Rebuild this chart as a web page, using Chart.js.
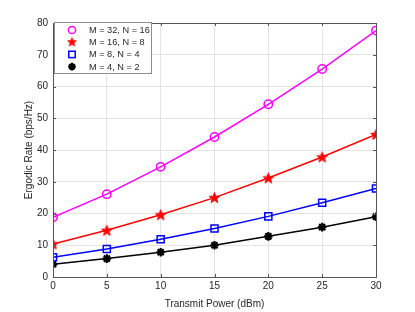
<!DOCTYPE html>
<html><head><meta charset="utf-8">
<script src="https://cdn.jsdelivr.net/npm/chart.js@4"></script>
<style>html,body{margin:0;padding:0;background:#fff}canvas{display:block}</style></head>
<body>
<canvas id="c" width="415" height="312" style="width:415px;height:312px"></canvas>
<script>
const powers = [0, 5, 10, 15, 20, 25, 30];
const seriesLabels = ['M = 32, N = 16', 'M = 16, N = 8', 'M = 8, N = 4', 'M = 4, N = 2'];
const rateM32 = [18.8, 26.1, 34.7, 44.1, 54.4, 65.5, 77.6];
const rateM16 = [10.4, 14.7, 19.6, 25.0, 31.2, 37.8, 44.9];
const rateM8 = [6.2, 8.8, 11.9, 15.3, 19.1, 23.4, 27.9];
const rateM4 = [4.0, 5.8, 7.8, 10.0, 12.8, 15.7, 19.0];
const xTickValues = [0, 5, 10, 15, 20, 25, 30];
const yTickValues = [0, 10, 20, 30, 40, 50, 60, 70, 80];

const FONT = '"Liberation Sans", Arial, Helvetica, sans-serif';
const AXIS = '#555555';
const TXT = '#262626';

function starPath(ctx, x, y, R, r) {
  ctx.beginPath();
  for (let i = 0; i < 10; i++) {
    const rad = i % 2 === 0 ? R : r;
    const a = -Math.PI / 2 + i * Math.PI / 5;
    const px = x + rad * Math.cos(a), py = y + rad * Math.sin(a);
    if (i === 0) ctx.moveTo(px, py); else ctx.lineTo(px, py);
  }
  ctx.closePath();
}
function makeStar(size, R, r) {
  const c = document.createElement('canvas');
  c.width = size; c.height = size;
  const g = c.getContext('2d');
  g.fillStyle = '#ff0000'; g.strokeStyle = '#ff0000'; g.lineWidth = 1;
  starPath(g, size / 2, size / 2 + 0.5, R, r);
  g.fill(); g.stroke();
  return c;
}
const redStar = makeStar(13, 5.6, 2.3);
const redStarSmall = makeStar(11, 4.6, 1.9);

function pts(arr) { return powers.map((p, i) => ({x: p, y: arr[i]})); }

const styles = [
  {color: '#ff00ff', pointStyle: 'circle', radius: 4.2, bw: 1.5},
  {color: '#ff0000', pointStyle: redStar, radius: 6, bw: 1.5},
  {color: '#0000ff', pointStyle: 'rect', radius: 5, bw: 1.5},
  {color: '#000000', pointStyle: 'star', radius: 4.3, bw: 2.2}
];
const allData = [rateM32, rateM16, rateM8, rateM4];

const datasets = allData.map((d, i) => ({
  label: seriesLabels[i],
  data: pts(d),
  borderColor: styles[i].color,
  backgroundColor: 'rgba(0,0,0,0)',
  pointBorderColor: styles[i].color,
  pointBackgroundColor: 'rgba(0,0,0,0)',
  pointStyle: styles[i].pointStyle,
  pointRadius: styles[i].radius,
  pointBorderWidth: styles[i].bw,
  borderWidth: 1.5,
  tension: 0
}));

function drawMarker(ctx, i, x, y) {
  const s = styles[i];
  ctx.save();
  ctx.strokeStyle = s.color; ctx.fillStyle = s.color; ctx.lineWidth = s.bw;
  if (i === 0) { ctx.beginPath(); ctx.arc(x, y, 3.6, 0, Math.PI * 2); ctx.stroke(); }
  else if (i === 1) { ctx.drawImage(redStarSmall, x - 5.5, y - 6); }
  else if (i === 2) { ctx.strokeRect(x - 3.2, y - 3.2, 6.4, 6.4); }
  else {
    ctx.beginPath();
    for (let k = 0; k < 4; k++) {
      const a = k * Math.PI / 4;
      ctx.moveTo(x - 3.8 * Math.cos(a), y - 3.8 * Math.sin(a));
      ctx.lineTo(x + 3.8 * Math.cos(a), y + 3.8 * Math.sin(a));
    }
    ctx.stroke();
  }
  ctx.restore();
}

const boxPlugin = {
  id: 'boxPlugin',
  afterDraw(chart) {
    const ctx = chart.ctx, a = chart.chartArea;
    ctx.save();
    ctx.strokeStyle = AXIS; ctx.lineWidth = 1;
    ctx.strokeRect(Math.round(a.left) + 0.5, Math.round(a.top) + 0.5, Math.round(a.right - a.left), Math.round(a.bottom - a.top));
    const xs = chart.scales.x, ys = chart.scales.y;
    ctx.beginPath();
    xTickValues.forEach(v => {
      const px = Math.round(xs.getPixelForValue(v)) + 0.5;
      ctx.moveTo(px, a.bottom); ctx.lineTo(px, a.bottom - 3);
      ctx.moveTo(px, a.top); ctx.lineTo(px, a.top + 3);
    });
    yTickValues.forEach(v => {
      const py = Math.round(ys.getPixelForValue(v)) + 0.5;
      ctx.moveTo(a.left, py); ctx.lineTo(a.left + 3, py);
      ctx.moveTo(a.right, py); ctx.lineTo(a.right - 3, py);
    });
    ctx.stroke();
    // legend
    const lx = 54.5, ly = 22.5, lw = 97, lh = 51;
    ctx.fillStyle = '#ffffff';
    ctx.fillRect(lx, ly, lw, lh);
    ctx.strokeStyle = '#8c8c8c';
    ctx.strokeRect(lx, ly, lw, lh);
    ctx.font = '9.2px ' + FONT;
    ctx.textBaseline = 'middle';
    ctx.textAlign = 'left';
    for (let i = 0; i < 4; i++) {
      const y = 30 + i * 12.2;
      drawMarker(ctx, i, 72, y);
      ctx.fillStyle = TXT;
      ctx.fillText(seriesLabels[i], 89, y + 0.5);
    }
    ctx.restore();
  }
};

new Chart(document.getElementById('c'), {
  type: 'line',
  data: {datasets},
  plugins: [boxPlugin],
  options: {
    responsive: false,
    animation: false,
    devicePixelRatio: 1,
    layout: {padding: {top: 23, right: 39, left: 23, bottom: 0}},
    plugins: {legend: {display: false}, tooltip: {enabled: false}},
    scales: {
      x: {
        type: 'linear', min: 0, max: 30,
        afterBuildTicks: s => { s.ticks = xTickValues.map(v => ({value: v})); },
        afterFit: s => { s.height = 35; },
        grid: {color: '#e3e3e3', lineWidth: 1, tickLength: 0, drawTicks: false},
        border: {display: false},
        ticks: {color: TXT, font: {family: FONT, size: 10}, padding: 3, maxRotation: 0},
        title: {display: true, text: 'Transmit Power (dBm)', color: TXT, font: {family: FONT, size: 10}, padding: {top: 2, bottom: 2}}
      },
      y: {
        type: 'linear', min: 0, max: 80,
        afterBuildTicks: s => { s.ticks = yTickValues.map(v => ({value: v})); },
        afterFit: s => { s.width = 30; },
        grid: {color: '#e3e3e3', lineWidth: 1, tickLength: 0, drawTicks: false},
        border: {display: false},
        ticks: {color: TXT, font: {family: FONT, size: 10}, padding: 5},
        title: {display: true, text: 'Ergodic Rate (bps/Hz)', color: TXT, font: {family: FONT, size: 10}, padding: {top: 0, bottom: 2}}
      }
    }
  }
});
</script>
</body></html>
